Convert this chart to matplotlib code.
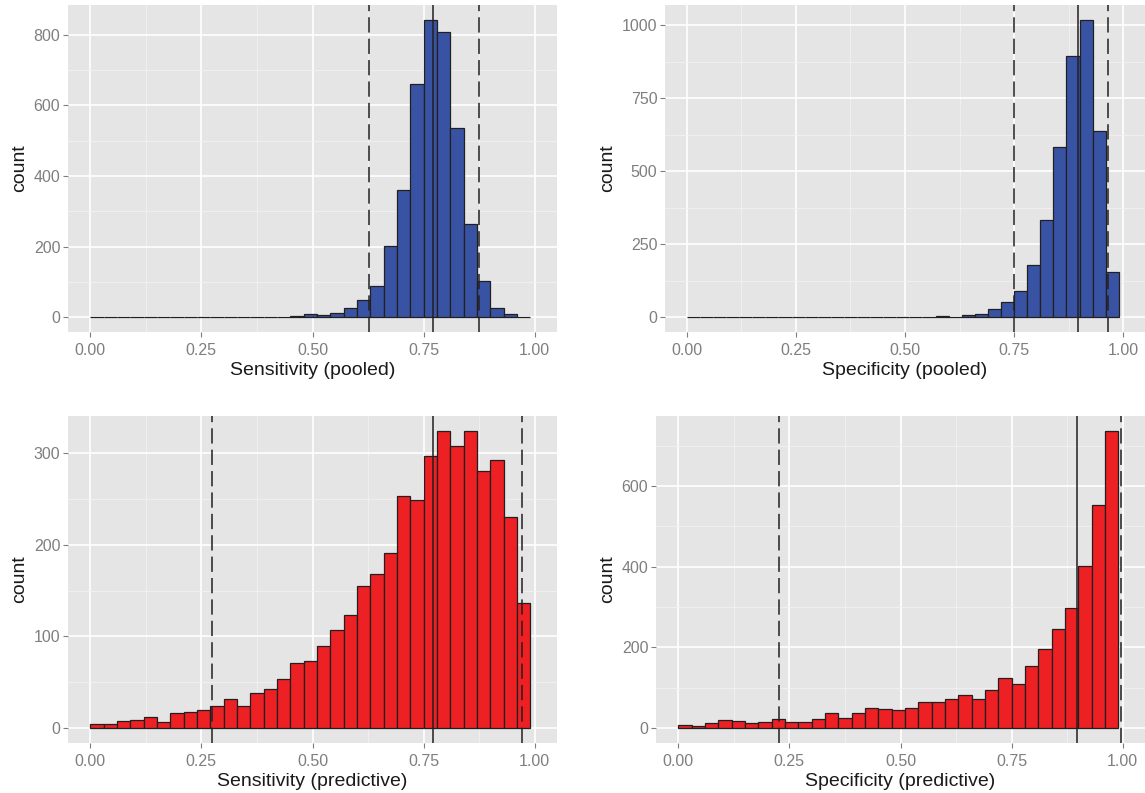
import numpy as np
import matplotlib
matplotlib.use("Agg")
import matplotlib.pyplot as plt
from matplotlib.ticker import MultipleLocator, FixedLocator

plt.rcParams['font.family'] = ['Liberation Sans', 'DejaVu Sans']

bin_width = 0.03
n_bins = 33

sens_pooled = [0, 0, 0, 0, 0, 0, 0, 0, 0, 0, 0, 0, 0, 1, 0, 2, 8, 6, 13, 26, 48, 88,
               202, 360, 660, 842, 809, 535, 263, 103, 27, 8, 1]
spec_pooled = [0, 0, 0, 0, 0, 0, 0, 0, 0, 0, 0, 0, 0, 0, 0, 0, 1, 1, 1, 5, 2, 8,
               10, 27, 52, 88, 179, 333, 584, 895, 1018, 639, 155]
sens_pred = [5, 4, 8, 9, 12, 7, 16, 18, 20, 24, 32, 24, 38, 43, 54, 71, 73, 90,
             107, 123, 155, 168, 191, 253, 249, 297, 324, 307, 324, 280, 292, 230, 136]
spec_pred = [9, 6, 12, 21, 17, 13, 15, 22, 16, 16, 23, 38, 26, 38, 50, 47, 44, 50,
             65, 64, 71, 83, 73, 95, 125, 109, 154, 196, 245, 297, 403, 554, 737]

# (lower dashed, solid, upper dashed)
lines_sens_pooled = (0.627, 0.770, 0.875)
lines_spec_pooled = (0.750, 0.896, 0.966)
lines_sens_pred = (0.275, 0.771, 0.972)
lines_spec_pred = (0.226, 0.897, 0.995)

x_ticks = [0.00, 0.25, 0.50, 0.75, 1.00]
x_tick_labels = ["0.00", "0.25", "0.50", "0.75", "1.00"]

BLUE = "#3953A4"
RED = "#ED2024"
EDGE = "#231F20"

W, H = 1145, 793
fig = plt.figure(figsize=(W / 100, H / 100), dpi=100)


def make_ax(left, right, top, bottom):
    return fig.add_axes([left / W, 1 - bottom / H, (right - left) / W, (bottom - top) / H])


panels = [
    (68, 557, 5, 332, sens_pooled, BLUE, lines_sens_pooled, "Sensitivity (pooled)", 200),
    (665, 1145, 5, 332, spec_pooled, BLUE, lines_spec_pooled, "Specificity (pooled)", 250),
    (68, 557, 416, 743, sens_pred, RED, lines_sens_pred, "Sensitivity (predictive)", 100),
    (656, 1145, 416, 743, spec_pred, RED, lines_spec_pred, "Specificity (predictive)", 200),
]

for left, right, top, bottom, counts, color, vl, xlabel, ystep in panels:
    ax = make_ax(left, right, top, bottom)
    ax.set_facecolor("#E5E5E5")
    edges = np.arange(n_bins) * bin_width
    ax.bar(edges, counts, width=bin_width, align="edge", color=color,
           edgecolor=EDGE, linewidth=0.9, zorder=3)
    ymax = max(counts)
    ax.set_ylim(-0.05 * ymax, 1.05 * ymax)
    ax.set_xlim(-0.05, 1.05)
    ax.axvline(vl[0], color=EDGE, lw=1.1, ls=(0, (10, 4)), zorder=4)
    ax.axvline(vl[1], color=EDGE, lw=1.1, zorder=4)
    ax.axvline(vl[2], color=EDGE, lw=1.1, ls=(0, (10, 4)), zorder=4)

    ax.set_xticks(x_ticks)
    ax.set_xticklabels(x_tick_labels)
    ax.xaxis.set_minor_locator(FixedLocator([0.125, 0.375, 0.625, 0.875]))
    ax.yaxis.set_major_locator(MultipleLocator(ystep))
    ax.yaxis.set_minor_locator(MultipleLocator(ystep / 2))
    ax.grid(which="major", color="white", lw=1.2, zorder=1)
    ax.grid(which="minor", color="#F2F2F2", lw=0.6, zorder=0.5)
    ax.set_axisbelow(True)
    for s in ax.spines.values():
        s.set_visible(False)
    ax.tick_params(which="major", length=3.5, width=0.8, color="#7F7F7F",
                   labelcolor="#7F7F7F", labelsize=11.5)
    ax.tick_params(axis="x", which="major", pad=4.5)
    ax.tick_params(axis="y", which="major", pad=2)
    ax.tick_params(which="minor", length=0)
    ax.set_xlabel(xlabel, fontsize=14, color="#1A1A1A", labelpad=3)
    ax.set_ylabel("count", fontsize=14, color="#1A1A1A", labelpad=4)

fig.savefig("out.png", dpi=100)
